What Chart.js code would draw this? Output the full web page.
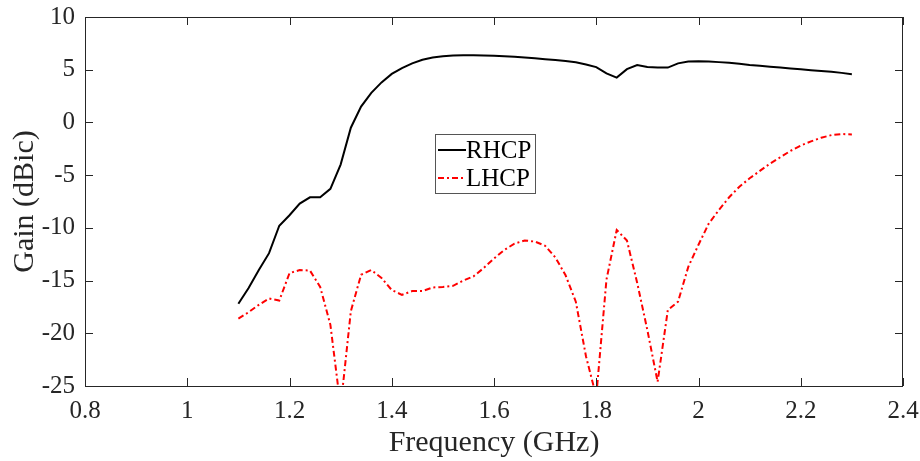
<!DOCTYPE html>
<html>
<head>
<meta charset="utf-8">
<script src="https://cdn.jsdelivr.net/npm/chart.js@4"></script>
<style>
  body { margin: 0; background: #fff; }
  #wrap { width: 920px; height: 461px; }
</style>
</head>
<body>
<div id="wrap"><canvas id="gainChart" width="920" height="461"></canvas></div>
<script>
// frequency points (GHz)
var freq = [1.10, 1.12, 1.14, 1.16, 1.18, 1.20, 1.22, 1.24, 1.26, 1.28,
            1.30, 1.32, 1.34, 1.36, 1.38, 1.40, 1.42, 1.44, 1.46, 1.48,
            1.50, 1.52, 1.54, 1.56, 1.58, 1.60, 1.62, 1.64, 1.66, 1.68,
            1.70, 1.72, 1.74, 1.76, 1.78, 1.80, 1.82, 1.84, 1.86, 1.88,
            1.90, 1.92, 1.94, 1.96, 1.98, 2.00, 2.02, 2.04, 2.06, 2.08,
            2.10, 2.12, 2.14, 2.16, 2.18, 2.20, 2.22, 2.24, 2.26, 2.28, 2.30];

var rhcp = [-17.2, -15.7, -14.0, -12.4, -9.8, -8.8, -7.7, -7.1, -7.1, -6.3,
            -4.0, -0.5, 1.5, 2.8, 3.8, 4.6, 5.15, 5.6, 5.95, 6.15,
            6.28, 6.35, 6.37, 6.37, 6.35, 6.33, 6.28, 6.22, 6.15, 6.08,
            6.0, 5.92, 5.83, 5.7, 5.5, 5.25, 4.65, 4.25, 5.05, 5.45,
            5.25, 5.22, 5.2, 5.6, 5.78, 5.8, 5.78, 5.72, 5.65, 5.57,
            5.45, 5.37, 5.29, 5.2, 5.12, 5.04, 4.96, 4.88, 4.8, 4.7, 4.58];

var lhcp = [-18.6, -18.0, -17.3, -16.7, -16.9, -14.3, -14.0, -14.05, -15.6, -19.2,
            -27.0, -17.9, -14.45, -14.0, -14.75, -15.9, -16.35, -16.0, -16.0, -15.65,
            -15.6, -15.5, -15.0, -14.6, -13.8, -12.9, -12.1, -11.5, -11.2, -11.3,
            -11.7, -12.8, -14.5, -17.0, -22.2, -26.0, -14.9, -10.2, -11.2, -15.2,
            -19.7, -24.6, -17.8, -17.0, -13.7, -11.6, -9.6, -8.3, -7.1, -6.1,
            -5.3, -4.6, -3.9, -3.3, -2.7, -2.2, -1.8, -1.45, -1.2, -1.1, -1.15];

var seriesNames = ["RHCP", "LHCP"];
var xTicks = [0.8, 1.0, 1.2, 1.4, 1.6, 1.8, 2.0, 2.2, 2.4];
var yTicks = [-25, -20, -15, -10, -5, 0, 5, 10];

var fontFamily = "'Liberation Serif', 'Times New Roman', serif";
var axisColor = "#262626";

function toPoints(ys) {
    return freq.map(function (f, i) { return { x: f, y: ys[i] }; });
}

// draws the full box and inward ticks, MATLAB style
var frameTicks = {
    id: "frameTicks",
    afterDraw: function (chart) {
        var ctx = chart.ctx;
        var a = chart.chartArea;
        var xs = chart.scales.x, ys = chart.scales.y;
        var len = 8;
        ctx.save();
        ctx.strokeStyle = axisColor;
        ctx.lineWidth = 1;
        ctx.strokeRect(a.left + 0.5, a.top + 0.5, a.right - a.left - 1, a.bottom - a.top);
        ctx.beginPath();
        xTicks.forEach(function (v) {
            var px = Math.round(xs.getPixelForValue(v)) + 0.5;
            ctx.moveTo(px, a.bottom); ctx.lineTo(px, a.bottom - len);
            ctx.moveTo(px, a.top); ctx.lineTo(px, a.top + len);
        });
        yTicks.forEach(function (v) {
            var py = Math.round(ys.getPixelForValue(v)) + 0.5;
            ctx.moveTo(a.left, py); ctx.lineTo(a.left + len, py);
            ctx.moveTo(a.right, py); ctx.lineTo(a.right - len, py);
        });
        ctx.stroke();
        ctx.restore();
    }
};

// legend box inside the plot
var boxLegend = {
    id: "boxLegend",
    afterDraw: function (chart) {
        var ctx = chart.ctx;
        var a = chart.chartArea;
        var bx = a.left + 350, by = a.top + 117, bw = 100, bh = 59;
        ctx.save();
        ctx.fillStyle = "#fff";
        ctx.fillRect(bx, by, bw, bh);
        ctx.strokeStyle = "#555";
        ctx.lineWidth = 1;
        ctx.strokeRect(bx + 0.5, by + 0.5, bw, bh);
        ctx.font = "25px " + fontFamily;
        ctx.textBaseline = "middle";
        chart.data.datasets.forEach(function (ds, i) {
            var yy = by + 16 + i * 28;
            ctx.strokeStyle = ds.borderColor;
            ctx.lineWidth = 2;
            ctx.setLineDash(ds.borderDash || []);
            ctx.beginPath();
            ctx.moveTo(bx + 3, yy); ctx.lineTo(bx + 31, yy);
            ctx.stroke();
            ctx.setLineDash([]);
            ctx.fillStyle = "#000";
            ctx.fillText(ds.label, bx + 31, yy + 1);
        });
        ctx.restore();
    }
};

new Chart(document.getElementById("gainChart"), {
    type: "line",
    data: {
        datasets: [
            {
                label: seriesNames[0],
                data: toPoints(rhcp),
                borderColor: "#000000",
                borderWidth: 2,
                pointRadius: 0,
                tension: 0
            },
            {
                label: seriesNames[1],
                data: toPoints(lhcp),
                borderColor: "#ff0000",
                borderWidth: 2,
                borderDash: [6, 3, 2, 3],
                pointRadius: 0,
                tension: 0
            }
        ]
    },
    options: {
        responsive: false,
        animation: false,
        layout: { padding: { left: 0, right: 17, top: 17, bottom: 0 } },
        plugins: {
            legend: { display: false },
            tooltip: { enabled: false }
        },
        scales: {
            x: {
                type: "linear",
                min: 0.8,
                max: 2.4,
                afterBuildTicks: function (scale) {
                    scale.ticks = xTicks.map(function (v) { return { value: v }; });
                },
                afterFit: function (scale) {
                    scale.height = 75;
                    scale.paddingLeft = 0;
                    scale.paddingRight = 0;
                },
                grid: { display: false, drawTicks: false },
                border: { display: false },
                ticks: {
                    padding: 10,
                    color: axisColor,
                    font: { family: fontFamily, size: 25 },
                    callback: function (v) { return String(Math.round(v * 10) / 10); }
                },
                title: {
                    display: true,
                    text: "Frequency (GHz)",
                    color: axisColor,
                    padding: { top: 0, bottom: 0 },
                    font: { family: fontFamily, size: 30 }
                }
            },
            y: {
                min: -25,
                max: 10,
                afterBuildTicks: function (scale) {
                    scale.ticks = yTicks.map(function (v) { return { value: v }; });
                },
                afterFit: function (scale) {
                    scale.width = 85;
                    scale.paddingTop = 0;
                    scale.paddingBottom = 0;
                },
                grid: { display: false, drawTicks: false },
                border: { display: false },
                ticks: {
                    padding: 10,
                    color: axisColor,
                    font: { family: fontFamily, size: 25 }
                },
                title: {
                    display: true,
                    text: "Gain (dBic)",
                    color: axisColor,
                    padding: { top: 7, bottom: 0 },
                    font: { family: fontFamily, size: 30 }
                }
            }
        }
    },
    plugins: [frameTicks, boxLegend]
});
</script>
</body>
</html>
